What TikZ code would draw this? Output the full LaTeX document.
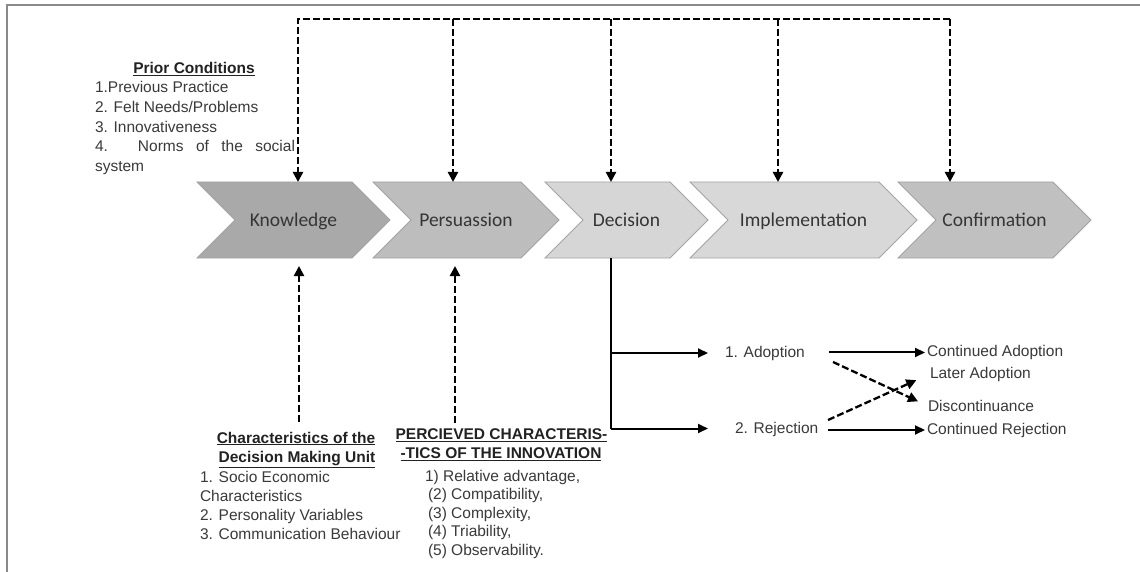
\documentclass[tikz,border=0pt]{standalone}
\usepackage{fontspec}
\setmainfont{Liberation Sans}
\newfontfamily\stagefont{Carlito}
\usetikzlibrary{arrows.meta,calc}

\definecolor{framegray}{HTML}{8A8A8A}
\definecolor{inkgray}{HTML}{3A3A3A}
\definecolor{stageink}{HTML}{353535}
\definecolor{headink}{HTML}{222222}
\definecolor{chevedge}{HTML}{A3A3A3}
\definecolor{shadeK}{HTML}{A9A9A9}
\definecolor{shadeP}{HTML}{BDBDBD}
\definecolor{shadeD}{HTML}{D6D6D6}
\definecolor{shadeI}{HTML}{D8D8D8}
\definecolor{shadeC}{HTML}{C0C0C0}

\tikzset{
  every node/.style={inner sep=0pt, outer sep=0pt},
  body/.style={font=\fontsize{15.5}{19}\selectfont, text=inkgray, anchor=base west},
  head/.style={font=\fontsize{15.5}{19}\selectfont\bfseries, text=headink, anchor=base},
  stagelabel/.style={font=\stagefont\fontsize{19.5}{22}\selectfont, text=stageink,
    minimum height=76pt, text height=16pt, text depth=4pt},
  chevshape/.style={fill=#1, draw=chevedge, line width=0.8pt, line join=miter},
  dasharrow/.style={line width=2.3pt, dash pattern=on 7pt off 3pt, -{Triangle[length=10pt,width=10pt]}},
  dashline/.style={line width=2.3pt, dash pattern=on 7pt off 3pt},
  solidarrow/.style={line width=2pt, -{Triangle[length=10pt,width=9pt]}},
  solidline/.style={line width=2pt},
}

% one stage of the process: name, left edge, right edge of the body, fill, label
\newcommand\mychev[5]{%
  \path[chevshape=#4] (#2,182) -- (#3,182) -- (#3+38,220) -- (#3,258)
     -- (#2,258) -- (#2+38,220) -- cycle;
  \node[stagelabel, minimum width={#3+38-#2}] (#1) at ({(#2+#3+38)/2},220) {#5};
}

\begin{document}
\begin{tikzpicture}[x=1pt, y=-1pt]
  \useasboundingbox (0,0) rectangle (1140,572);
  \fill[white] (0,0) rectangle (1140,572);

  % frame
  \draw[framegray, line width=2pt] (7,572) -- (7,5) -- (1140,5);

  % stages
  \mychev{know}{197}{352}{shadeK}{Knowledge}
  \mychev{pers}{373}{521}{shadeP}{Persuassion}
  \mychev{dec}{545}{670}{shadeD}{Decision}
  \mychev{impl}{690}{879}{shadeI}{Implementation}
  \mychev{conf}{898}{1053}{shadeC}{Confirmation}

  % prior conditions
  \node[head] (priorHead) at (194,73.5) {\underline{Prior Conditions}};
  \node[body] (prior1) at (95,93) {1.Previous Practice};
  \node[body] (prior2) at (95,112.6) {2. Felt Needs/Problems};
  \node[body] (prior3) at (95,132.2) {3. Innovativeness};
  \node[body] (prior4) at (95,151.8) {\makebox[200pt][s]{4. Norms of the social}};
  \node[body] (prior5) at (95,171.4) {system};

  % feedback bus along the top
  \coordinate (busK) at (298,19);
  \coordinate (busP) at (453,19);
  \coordinate (busD) at (611,19);
  \coordinate (busI) at (778,19);
  \coordinate (busC) at (950,19);
  \draw[dasharrow] (busC) -- (busK) -- (busK |- know.north);
  \draw[dasharrow] (busP) -- (busP |- pers.north);
  \draw[dasharrow] (busD) -- (busD |- dec.north);
  \draw[dasharrow] (busI) -- (busI |- impl.north);
  \draw[dasharrow] (busC) -- (busC |- conf.north);

  % decision making unit
  \node[head] (unitHead1) at (296,443) {\underline{Characteristics of the}};
  \node[head] (unitHead2) at (297,462.5) {\underline{Decision Making Unit}};
  \node[body] (unit1) at (200,482) {1. Socio Economic};
  \node[body] (unit1b) at (200,501) {Characteristics};
  \node[body] (unit2) at (200,520) {2. Personality Variables};
  \node[body] (unit3) at (200,539) {3. Communication Behaviour};

  % perceived characteristics
  \node[head] (percHead1) at (501.5,439.5) {\underline{PERCIEVED CHARACTERIS-}};
  \node[head] (percHead2) at (501,458.5) {\underline{-TICS OF THE INNOVATION}};
  \node[body] (perc1) at (425,481) {1) Relative advantage,};
  \node[body] (perc2) at (428,499.6) {(2) Compatibility,};
  \node[body] (perc3) at (428,518.2) {(3) Complexity,};
  \node[body] (perc4) at (428,536.8) {(4) Triability,};
  \node[body] (perc5) at (428,555.4) {(5) Observability.};

  \coordinate (kFoot) at (299,422);
  \coordinate (pFoot) at (455,423);
  \draw[dasharrow, shorten >=8pt] (kFoot) -- (kFoot |- know.south);
  \draw[dasharrow, shorten >=8pt] (pFoot) -- (pFoot |- pers.south);

  % outcomes of the decision
  \node[body] (adopt) at (725,357.5) {1. Adoption};
  \node[body] (reject) at (735,433) {2. Rejection};
  \node[body] (contAdopt) at (927,356.5) {Continued Adoption};
  \node[body] (later) at (930,378) {Later Adoption};
  \node[body] (disc) at (928,411.5) {Discontinuance};
  \node[body] (contReject) at (927,434) {Continued Rejection};

  \coordinate (dTurnA) at (611,353);
  \coordinate (dTurnR) at (611,428.5);
  \draw[solidline] (dec.south -| dTurnA) -- (dTurnR);
  \draw[solidarrow, shorten >=17pt] (dTurnA) -- (dTurnA -| adopt.west);
  \draw[solidarrow, shorten >=27pt] (dTurnR) -- (dTurnR -| reject.west);

  \draw[solidarrow, shorten <=24pt, shorten >=2pt] (adopt.east |- contAdopt.west) -- (contAdopt.west);
  \draw[solidarrow, shorten <=10pt, shorten >=2pt] (reject.east |- contReject.west) -- (contReject.west);

  \coordinate (crossA) at (833,362);
  \coordinate (crossR) at (828,420);
  \draw[dasharrow, shorten >=11pt] (crossA) -- (disc.west);
  \draw[dasharrow, shorten >=15pt] (crossR) -- (later.west);
\end{tikzpicture}
\end{document}
